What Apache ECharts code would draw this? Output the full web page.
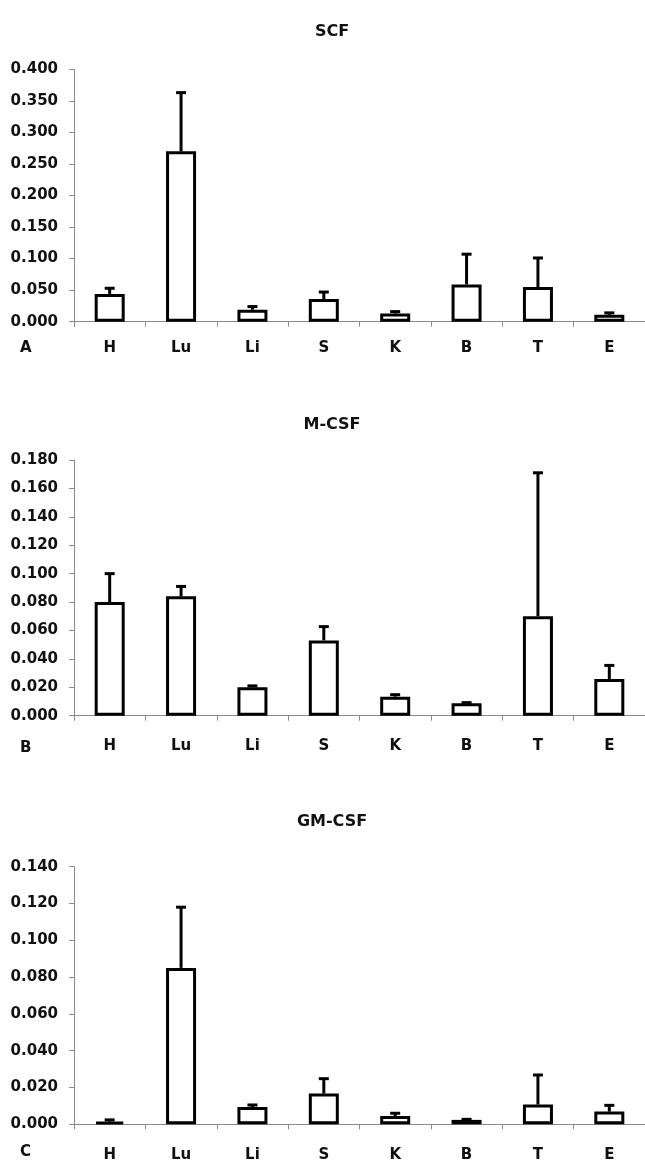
<!DOCTYPE html>
<html>
<head>
<meta charset="utf-8">
<script src="https://cdn.jsdelivr.net/npm/echarts@6/dist/echarts.min.js"></script>
<style>
html,body{margin:0;padding:0;background:#fff;}
#chart{width:645px;height:1165px;}
</style>
</head>
<body>
<div id="chart"></div>
<script>
// ---- data ----
var categories = ['H', 'Lu', 'Li', 'S', 'K', 'B', 'T', 'E'];
var panelTitles = ['SCF', 'M-CSF', 'GM-CSF'];
var panelLetters = ['A', 'B', 'C'];

var scfMean  = [0.044, 0.270, 0.019, 0.036, 0.013, 0.059, 0.055, 0.011];
var scfUpper = [0.053, 0.363, 0.024, 0.047, 0.016, 0.107, 0.101, 0.014];

var mcsfMean  = [0.080, 0.084, 0.020, 0.053, 0.0134, 0.0087, 0.070, 0.0258];
var mcsfUpper = [0.100, 0.091, 0.021, 0.0627, 0.0148, 0.0092, 0.171, 0.0354];

var gmcsfMean  = [0.0015, 0.085, 0.0094, 0.0167, 0.0045, 0.0024, 0.0107, 0.0069];
var gmcsfUpper = [0.0024, 0.118, 0.0105, 0.0248, 0.0060, 0.0027, 0.0268, 0.0103];

var yMax = [0.400, 0.180, 0.140];
var yStep = [0.050, 0.020, 0.020];

// ---- layout ----
var FONT = 'DejaVu Sans';
var grids = [
  {left: 74, width: 574, top: 69.3, height: 252.4},
  {left: 74, width: 574, top: 460, height: 255.7},
  {left: 74, width: 574, top: 866.7, height: 257.6}
];
var catMargin = [19, 23, 23];
var titleY = [27, 420, 817];
var letterY = [350, 750, 1154];

var means = [scfMean, mcsfMean, gmcsfMean];
var uppers = [scfUpper, mcsfUpper, gmcsfUpper];

var option = {
  animation: false,
  backgroundColor: '#fff',
  title: [],
  grid: grids,
  xAxis: [],
  yAxis: [],
  series: [],
  graphic: []
};

for (var p = 0; p < 3; p++) {
  option.title.push({
    text: panelTitles[p],
    left: 327, top: titleY[p], textAlign: 'center', textVerticalAlign: 'middle',
    textStyle: {fontFamily: FONT, fontWeight: 'bold', fontSize: 16, color: '#111'}
  });
  option.graphic.push({
    type: 'text', left: 20, top: letterY[p] - 9,
    style: {text: panelLetters[p], font: 'bold 15px "' + FONT + '"', fill: '#111'}
  });
  option.xAxis.push({
    type: 'category', gridIndex: p, data: categories,
    axisLine: {show: true, lineStyle: {color: '#8a8a8a', width: 1}},
    axisTick: {show: true, length: 5, alignWithLabel: false, lineStyle: {color: '#8a8a8a'}},
    axisLabel: {margin: catMargin[p], fontFamily: FONT, fontWeight: 'bold', fontSize: 15, color: '#111'},
    splitLine: {show: false}
  });
  option.yAxis.push({
    type: 'value', gridIndex: p, min: 0, max: yMax[p], interval: yStep[p],
    axisLine: {show: true, lineStyle: {color: '#8a8a8a', width: 1}},
    axisTick: {show: true, length: 5, lineStyle: {color: '#8a8a8a'}},
    axisLabel: {margin: 16, fontFamily: FONT, fontWeight: 'bold', fontSize: 15, color: '#111',
      formatter: function (v) { return v.toFixed(3); }},
    splitLine: {show: false}
  });
  option.series.push({
    type: 'bar', xAxisIndex: p, yAxisIndex: p, data: means[p],
    barWidth: 30,
    itemStyle: {color: '#fff', borderColor: '#000', borderWidth: 3}
  });
  var errData = [];
  for (var i = 0; i < categories.length; i++) {
    errData.push([i, means[p][i], uppers[p][i]]);
  }
  option.series.push({
    type: 'custom', xAxisIndex: p, yAxisIndex: p, data: errData, z: 1,
    encode: {x: 0, y: [1, 2]},
    renderItem: function (params, api) {
      var x = api.value(0);
      var lo = api.coord([x, api.value(1)]);
      var hi = api.coord([x, api.value(2)]);
      var s = {stroke: '#000', lineWidth: 3};
      return {
        type: 'group',
        children: [
          {type: 'line', shape: {x1: lo[0], y1: lo[1], x2: hi[0], y2: hi[1]}, style: s},
          {type: 'line', shape: {x1: hi[0] - 5, y1: hi[1], x2: hi[0] + 5, y2: hi[1]}, style: s}
        ]
      };
    }
  });
}

var chart = echarts.init(document.getElementById('chart'), null, {renderer: 'canvas'});
chart.setOption(option);
</script>
</body>
</html>
